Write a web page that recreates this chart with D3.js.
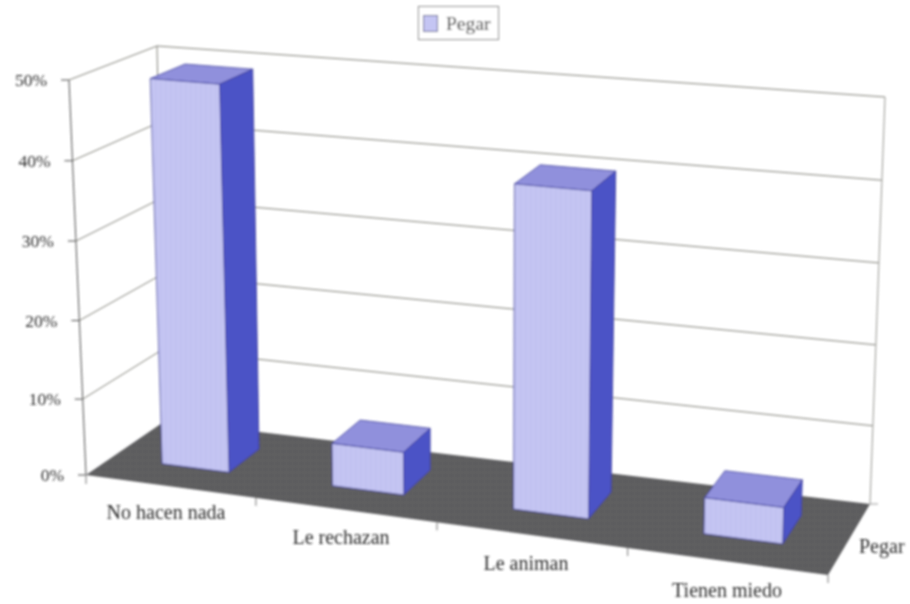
<!DOCTYPE html>
<html><head><meta charset="utf-8">
<script src="https://cdn.jsdelivr.net/npm/d3@7"></script>
<style>html,body{margin:0;padding:0;background:#fff}svg{display:block}text{font-family:"Liberation Serif",serif;fill:#2e2e2e}</style>
</head><body><svg id="c" width="910" height="604"></svg>
<script>
const categories = ["No hacen nada","Le rechazan","Le animan","Tienen miedo"];
const seriesName = "Pegar";
const values = [49.3,5.6,40.2,4.6];
const yTicks = [0,10,20,30,40,50];

const svg=d3.select("#c");
const defs=svg.append("defs");
defs.append("filter").attr("id","soft").attr("filterUnits","userSpaceOnUse").attr("x",0).attr("y",0).attr("width",910).attr("height",604)
  .append("feGaussianBlur").attr("stdDeviation",0.8);
const pat=defs.append("pattern").attr("id","stripes").attr("patternUnits","userSpaceOnUse").attr("width",5).attr("height",10);
pat.append("rect").attr("width",5).attr("height",10).attr("fill","#c4c5f3");
pat.append("rect").attr("width",1.6).attr("height",10).attr("fill","#bfc0ef");
const floorPat=defs.append("pattern").attr("id","mottle").attr("patternUnits","userSpaceOnUse").attr("width",6).attr("height",6);
floorPat.append("rect").attr("width",6).attr("height",6).attr("fill","#5f5f61");
floorPat.append("rect").attr("width",3).attr("height",3).attr("fill","#5b5b5d");
const root=svg.append("g").attr("filter","url(#soft)");

// perspective frame of the chart box: front-left, front-right, back-right, back-left
const floorQuad=[[86,475],[828,575],[870,504],[165,421]];
const topQuad=[[69,80],[841,146],[885,97],[157,46]];
const bil=(q,t,d)=>{
  const fx=q[0][0]+(q[1][0]-q[0][0])*t,fy=q[0][1]+(q[1][1]-q[0][1])*t;
  const bx=q[3][0]+(q[2][0]-q[3][0])*t,by=q[3][1]+(q[2][1]-q[3][1])*t;
  return [fx+(bx-fx)*d,fy+(by-fy)*d];
};
// foreshortened category axis
const xScale=d3.scaleLinear().domain([0,1,2,3,4]).range([0,.229,.473,.73,1]);
const yScale=d3.scalePow().exponent(1.025).domain([0,50]).range([0,1]);
function P(cat,depth,val){
  const t=xScale(cat),a=bil(floorQuad,t,depth),b=bil(topQuad,t,depth),f=yScale(val);
  return [a[0]+(b[0]-a[0])*f,a[1]+(b[1]-a[1])*f];
}
const line=d3.line();
const poly=(pts,fill,stroke,sw)=>root.append("path").attr("d",line(pts)+"Z").attr("fill",fill).attr("stroke",stroke||"none").attr("stroke-width",sw||1).attr("stroke-linejoin","round");
const seg=(a,b,stroke,sw)=>root.append("path").attr("d",line([a,b])).attr("fill","none").attr("stroke",stroke).attr("stroke-width",sw||1);

const n=categories.length,gridCol="#808078",axisCol="#4c4c4c";
// walls and gridlines
yTicks.forEach(t=>{
  if(t>0){
    seg(P(0,0,t),P(0,1,t),gridCol,1);
    seg(P(0,1,t),P(n,1,t),gridCol,1);
  }
  const p=P(0,0,t);
  seg([p[0]-8,p[1]],p,axisCol,1);
  root.append("text").attr("x",p[0]-22).attr("y",p[1]+6).attr("text-anchor","end").attr("font-size",17.5).text(t+"%");
});
seg(P(0,0,0),P(0,0,50),axisCol,1);
seg(P(0,1,0),P(0,1,50),gridCol,1);
seg(P(n,1,0),P(n,1,50),"#959590",1);

// floor
poly([P(0,0,0),P(n,0,0),P(n,1,0),P(0,1,0)],"url(#mottle)");
d3.range(1,n+1).forEach(i=>{const p=P(i,0,0);seg(p,[p[0],p[1]+8],"#777",1);});
{const p=P(n,1,0);seg(p,[p[0]+8,p[1]],"#999",1);}
{const p=P(0,0,0);seg(p,[p[0],p[1]+9],"#777",1);}

// bars
const uIn=0.3,uOut=0.7,d0=0.33,d1=0.74;
const fFront="url(#stripes)",fSide="#4c53c6",fTop="#9090dc",edge="#3a3a98";
values.forEach((v,i)=>{
  const a=i+uIn,b=i+uOut;
  poly([P(a,d0,v),P(b,d0,v),P(b,d1,v),P(a,d1,v)],fTop,edge,.8);
  poly([P(b,d0,0),P(b,d1,0),P(b,d1,v),P(b,d0,v)],fSide,edge,.8);
  poly([P(a,d0,0),P(b,d0,0),P(b,d0,v),P(a,d0,v)],fFront,edge,.8);
});

// category labels
const labelPos=[[166,519],[341,544],[526,570],[727,597]];
categories.forEach((c,i)=>root.append("text").attr("x",labelPos[i][0]).attr("y",labelPos[i][1]).attr("text-anchor","middle").attr("font-size",20).text(c));
root.append("text").attr("x",859).attr("y",553).attr("font-size",20).text(seriesName);

// legend
root.append("rect").attr("x",418.5).attr("y",6.5).attr("width",80).attr("height",33).attr("fill","#fff").attr("stroke","#777");
root.append("rect").attr("x",423.5).attr("y",15.5).attr("width",14).attr("height",16).attr("fill","#c4c5f3").attr("stroke","#55558a");
root.append("text").attr("x",446).attr("y",30).attr("font-size",19.5).style("fill","#1c1c1c").text(seriesName);
</script></body></html>
